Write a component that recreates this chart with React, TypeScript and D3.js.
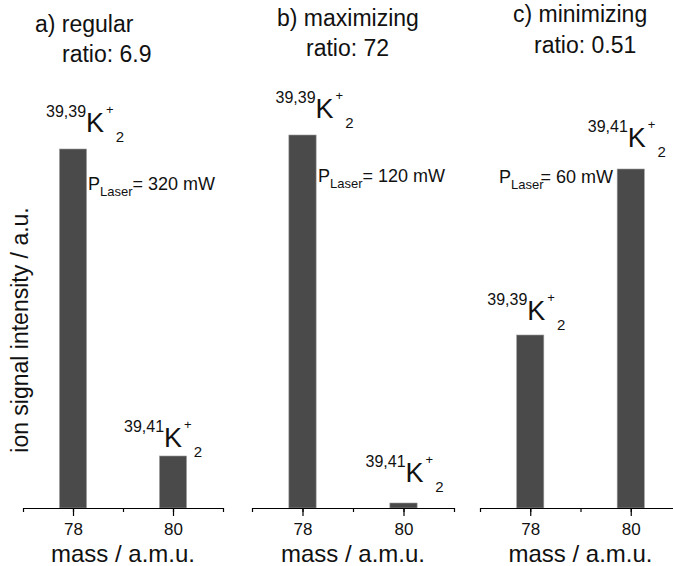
import { useEffect, useRef } from "react";
import * as d3 from "d3";

// masses on the x axis and the three measured spectra (ion signal, a.u.)
const masses = [78, 80];
const isotopes = ["39,39", "39,41"];
const regular = [3.59, 0.52];
const maximizing = [3.73, 0.05];
const minimizing = [1.73, 3.39];
const titles = ["a) regular", "b) maximizing", "c) minimizing"];
const ratios = ["ratio: 6.9", "ratio: 72", "ratio: 0.51"];
const laserPowers = ["320 mW", "120 mW", "60 mW"];
const tickValues = [77, 78, 79, 80, 81];
const labelledTicks = [78, 80];

const W = 673;
const H = 566;
const FONT = "'Liberation Sans', Arial, Helvetica, sans-serif";
const BAR_COLOR = "#4a4a4a";

// layout for each panel
const panels = [
  {
    values: regular,
    range: [23, 223],
    title: [35, 32],
    ratio: [62, 62],
    laser: [88, 190, 0],
    iso: [
      [-27, -17],
      [-49, -9],
    ],
  },
  {
    values: maximizing,
    range: [252, 454],
    title: [277, 26],
    ratio: [306, 56],
    laser: [318, 182, 0],
    iso: [
      [-27, -17],
      [-38, -21],
    ],
  },
  {
    values: minimizing,
    range: [480, 681],
    title: [513, 22],
    ratio: [534, 53],
    laser: [499, 183, -3],
    iso: [
      [-43, -15],
      [-43, -22],
    ],
  },
];

const axisY = 508;
const y = d3.scaleLinear().domain([0, 4]).range([axisY, 108]);

function Panel({ p, i }) {
  const axisRef = useRef(null);
  const x = d3.scaleLinear().domain([77, 81]).range(p.range);
  const halfBar = 0.27;

  useEffect(() => {
    const g = d3.select(axisRef.current);
    g.selectAll("*").remove();
    // minor ticks
    g.append("g")
      .call(
        d3.axisBottom(x).tickValues(tickValues).tickSize(4).tickSizeOuter(0).tickFormat(() => "")
      );
    // labelled ticks
    const major = g
      .append("g")
      .call(
        d3
          .axisBottom(x)
          .tickValues(labelledTicks)
          .tickSize(8)
          .tickSizeOuter(0)
          .tickPadding(7)
          .tickFormat(d3.format("d"))
      );
    major.select(".domain").remove();
    g.selectAll(".domain").attr("stroke", "#000").attr("stroke-width", 1.2);
    g.selectAll(".tick line").attr("stroke", "#000").attr("stroke-width", 1.2);
    major
      .selectAll(".tick text")
      .attr("font-family", FONT)
      .attr("font-size", 17)
      .attr("fill", "#111");
  }, []);

  return (
    <g>
      <text x={p.title[0]} y={p.title[1]} fontSize={23} fontFamily={FONT} fill="#111">
        {titles[i]}
      </text>
      <text x={p.ratio[0]} y={p.ratio[1]} fontSize={23} fontFamily={FONT} fill="#111">
        {ratios[i]}
      </text>
      {masses.map((m, j) => (
        <rect
          key={m}
          x={x(m - halfBar)}
          width={x(m + halfBar) - x(m - halfBar)}
          y={y(p.values[j])}
          height={axisY - y(p.values[j])}
          fill={BAR_COLOR}
          stroke="#9a9a9a"
          strokeWidth={0.6}
        />
      ))}
      {masses.map((m, j) => (
        <text
          key={"iso" + m}
          x={x(m) + p.iso[j][0]}
          y={y(p.values[j]) + p.iso[j][1]}
          fontFamily={FONT}
          fill="#111"
        >
          <tspan fontSize={16} dy={-15}>
            {isotopes[j]}
          </tspan>
          <tspan fontSize={27} dy={15}>
            K
          </tspan>
          <tspan fontSize={13} dx={2} dy={-18}>
            +
          </tspan>
          <tspan fontSize={15} dx={2} dy={28}>
            2
          </tspan>
        </text>
      ))}
      <text x={p.laser[0]} y={p.laser[1]} fontFamily={FONT} fontSize={18} fill="#111">
        <tspan>P</tspan>
        <tspan fontSize={13} dy={6}>
          Laser
        </tspan>
        <tspan dx={p.laser[2]} dy={-6}>
          = {laserPowers[i]}
        </tspan>
      </text>
      <g ref={axisRef} transform={`translate(0,${axisY})`} />
      <text
        x={(p.range[0] + p.range[1]) / 2}
        y={562}
        textAnchor="middle"
        fontSize={24}
        fontFamily={FONT}
        fill="#111"
      >
        mass / a.m.u.
      </text>
    </g>
  );
}

export default function App() {
  return (
    <svg
      width={W}
      height={H}
      viewBox={`0 0 ${W} ${H}`}
      style={{ position: "absolute", left: 0, top: 0, background: "#fff" }}
    >
      <rect width={W} height={H} fill="#fff" />
      <text
        transform="translate(28,330) rotate(-90)"
        textAnchor="middle"
        fontSize={23}
        fontFamily={FONT}
        fill="#111"
      >
        ion signal intensity / a.u.
      </text>
      {panels.map((p, i) => (
        <Panel key={i} p={p} i={i} />
      ))}
    </svg>
  );
}
